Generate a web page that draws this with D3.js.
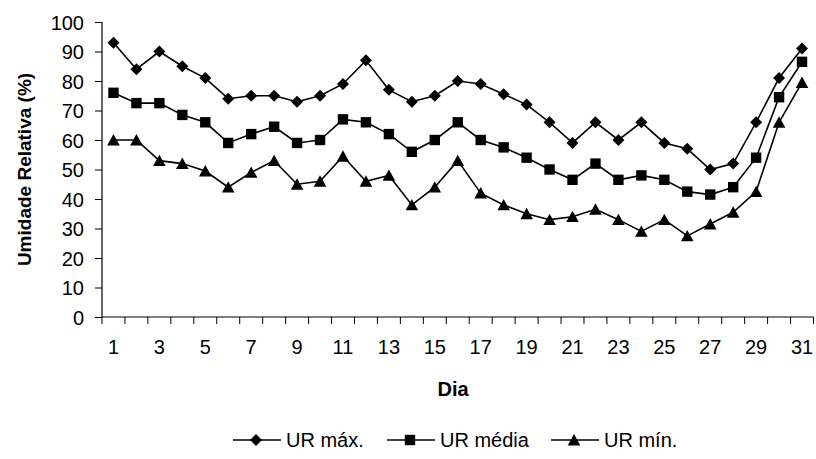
<!DOCTYPE html>
<html><head><meta charset="utf-8">
<script src="https://cdn.jsdelivr.net/npm/d3@7"></script>
<style>body{margin:0;background:#fff}svg{display:block}text{font-family:Arial,"Liberation Sans",sans-serif;fill:#000}</style>
</head><body><svg id="c" width="816" height="459"></svg>
<script>
const days = d3.range(1, 32);
const urMax = [93,84,90,85,81,74,75,75,73,75,79,87,77,73,75,80,79,75.5,72,66,59,66,60,66,59,57,50,52,66,81,91];
const urMedia = [76,72.5,72.5,68.5,66,59,62,64.5,59,60,67,66,62,56,60,66,60,57.5,54,50,46.5,52,46.5,48,46.5,42.5,41.5,44,54,74.5,86.5];
const urMin = [60,60,53,52,49.5,44,49,53,45,46,54.5,46,48,38,44,53,42,38,35,33,34,36.5,33,29,33,27.5,31.5,35.5,42.5,66,79.5];
const yTicks = [0,10,20,30,40,50,60,70,80,90,100];
const xTickLabels = [1,3,5,7,9,11,13,15,17,19,21,23,25,27,29,31];
const seriesNames = ["UR máx.","UR média","UR mín."];

const svg = d3.select("#c");
const L = 102, R = 813.5, T = 22, B = 317;
const FS = "20px";
const x = d3.scaleBand().domain(days).range([L, R]);
const y = d3.scaleLinear().domain([0, 100]).range([B, T]);

const shapes = {
  diamond: s => `M0,${-s}L${s},0L0,${s}L${-s},0Z`,
  square: s => `M${-s},${-s}H${s}V${s}H${-s}Z`,
  triangle: s => `M0,${-s}L${s*1.05},${s*0.9}L${-s*1.05},${s*0.9}Z`
};
const series = [
  {name: seriesNames[0], values: urMax, shape: "diamond", size: 6},
  {name: seriesNames[1], values: urMedia, shape: "square", size: 5.2},
  {name: seriesNames[2], values: urMin, shape: "triangle", size: 6}
];

// axes
const yAxis = d3.axisLeft(y).tickValues(yTicks).tickSize(7).tickPadding(11);
const gy = svg.append("g").attr("transform", `translate(${L},0)`).call(yAxis);
gy.selectAll("text").style("font-size", FS).attr("dy", "0.36em");

const xAxis = d3.axisBottom(x).tickSize(0).tickFormat(d => xTickLabels.includes(d) ? d : "").tickPadding(23);
const gx = svg.append("g").attr("transform", `translate(0,${B})`).call(xAxis);
gx.selectAll("text").style("font-size", FS);
// tick marks between categories
const bounds = d3.range(0, 32).map(i => L + i * x.step());
gx.selectAll("line.cat").data(bounds).enter().append("line").attr("class","cat")
  .attr("x1", d => d).attr("x2", d => d).attr("y1", 0).attr("y2", 7).attr("stroke", "#000");
svg.selectAll(".domain").attr("stroke", "#000").attr("stroke-width", 1.2);
gx.select(".domain").attr("d", `M${L},0H${R}`);
gy.select(".domain").attr("d", `M0,${T}V${B}`);

// lines & markers
const line = d3.line().x((d, i) => x(days[i]) + x.bandwidth() / 2).y(d => y(d));
series.forEach(s => {
  svg.append("path").attr("d", line(s.values)).attr("fill", "none").attr("stroke", "#000").attr("stroke-width", 1.6);
  svg.append("g").selectAll("path").data(s.values).enter().append("path")
    .attr("transform", (d, i) => `translate(${x(days[i]) + x.bandwidth() / 2},${y(d)})`)
    .attr("d", shapes[s.shape](s.size)).attr("fill", "#000");
});

// titles
svg.append("text").attr("x", 453).attr("y", 396).attr("text-anchor", "middle")
  .style("font-size", FS).style("font-weight", "bold").text("Dia");
svg.append("text").attr("transform", `translate(31,${(T + B) / 2}) rotate(-90)`).attr("text-anchor", "middle")
  .style("font-size", "19px").style("font-weight", "bold").text("Umidade Relativa (%)");

// legend
const legX = [233, 387, 551];
const leg = svg.append("g");
series.forEach((s, i) => {
  const g = leg.append("g").attr("transform", `translate(${legX[i]},440)`);
  g.append("line").attr("x1", 0).attr("x2", 48).attr("stroke", "#000").attr("stroke-width", 1.6);
  g.append("path").attr("transform", "translate(23,0)").attr("d", shapes[s.shape](s.size)).attr("fill", "#000");
  g.append("text").attr("x", 53).attr("y", 0).attr("dy", "0.36em").style("font-size", FS).text(s.name);
});
</script></body></html>
